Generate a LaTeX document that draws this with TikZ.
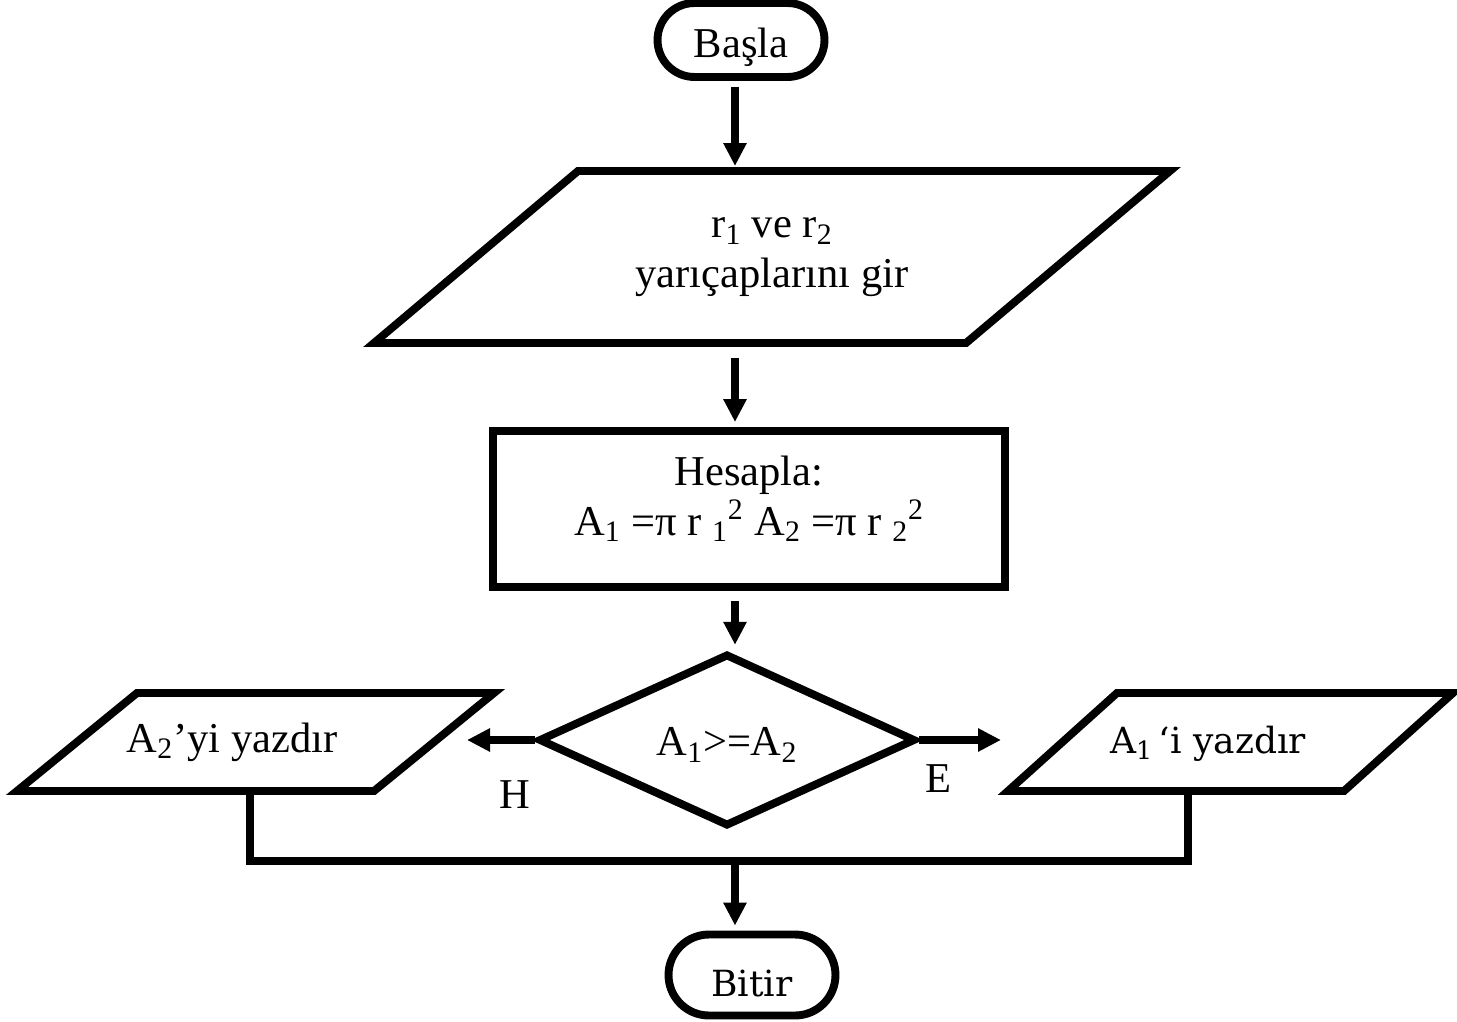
\documentclass[tikz,border=0pt]{standalone}
\usepackage{fontspec}
\setmainfont{Liberation Serif}
\newfontfamily\slabfont{DejaVu Serif}
\usepackage{tikz}
\usetikzlibrary{arrows.meta, shapes.geometric, shapes.misc}

\begin{document}
\begin{tikzpicture}[
  x=0.02cm, y=-0.02cm,
  font=\fontsize{24.2}{28}\selectfont,
  terminal/.style={rounded rectangle, draw, line width=4.5pt, minimum width=3.34cm, minimum height=1.48cm, inner sep=0pt, text height=20pt, text depth=0pt},
  iobox/.style={draw, line width=4.5pt, line join=miter},
  io/.style={align=center, inner sep=0pt},
  process/.style={rectangle, draw, line width=4.5pt, minimum width=10.24cm, minimum height=3.12cm, align=center, inner sep=0pt, text depth=15pt},
  decision/.style={diamond, draw, line width=4.5pt, minimum width=7.54cm, minimum height=2.9cm, inner sep=0pt, text height=18pt, text depth=0pt},
  slab/.style={font=\slabfont\fontsize{20.5}{24}\selectfont},
  lbl/.style={inner sep=0pt},
  conn/.style={line width=4.5pt},
  arr/.style={-{Triangle[length=0.46cm, width=0.44cm]}, line width=4.5pt, shorten >=0.1cm}
]
\useasboundingbox (0,0) rectangle (1457,1021);
\node[terminal] (basla) at (741,40) {Başla};
\draw[iobox] (578,171) coordinate (inpTL) -- (1170,171) -- (966,343) coordinate (inpBR) -- (374,343) -- cycle;
\node[io] (inp) at (772,257) {r\textsubscript{1} ve r\textsubscript{2}\\yarıçaplarını gir};
\node[process] (calc) at (749,509) {Hesapla:\\A\textsubscript{1} =π r \textsubscript{1}\textsuperscript{2} A\textsubscript{2} =π r \textsubscript{2}\textsuperscript{2}};
\node[decision] (dec) at (727,740) {A\textsubscript{1}>=A\textsubscript{2}};
\draw[iobox] (137,693) -- (494,693) -- (374,791) coordinate (outA2BR) -- (17,791) -- cycle;
\node[io] (outA2) at (232,742) {A\textsubscript{2}’yi yazdır};
\draw[iobox] (1117,693) -- (1453,693) -- (1344,791) coordinate (outA1BR) -- (1008,791) -- cycle;
\node[io, slab] (outA1) at (1208,744) {A\textsubscript{1}\,‘i yazdır};
\node[terminal, slab, minimum height=1.62cm, text height=25pt] (bitir) at (752,975) {Bitir};
\node[lbl] (hlbl) at (515,795) {H};
\node[lbl] (elbl) at (938,779) {E};
\coordinate (ax) at (735,0);
\coordinate (hTip) at (462,740);
\coordinate (eTip) at (1006,740);
\coordinate (jl) at (250,861);
\coordinate (jr) at (1188,861);
\draw[arr, shorten <=0.12cm] (basla.south -| ax) -- (inpTL -| ax);
\draw[arr, shorten <=0.3cm] (inpBR -| ax) -- (calc.north -| ax);
\draw[arr, shorten <=0.2cm] (calc.south -| ax) -- (dec.north -| ax);
\draw[arr] (dec.west) -- (hTip);
\draw[arr] (dec.east) -- (eTip);
\draw[conn] (outA2BR -| jl) -- (jl) -- (jr) -- (outA1BR -| jr);
\draw[arr] (jl -| ax) -- (bitir.north -| ax);
\end{tikzpicture}
\end{document}
